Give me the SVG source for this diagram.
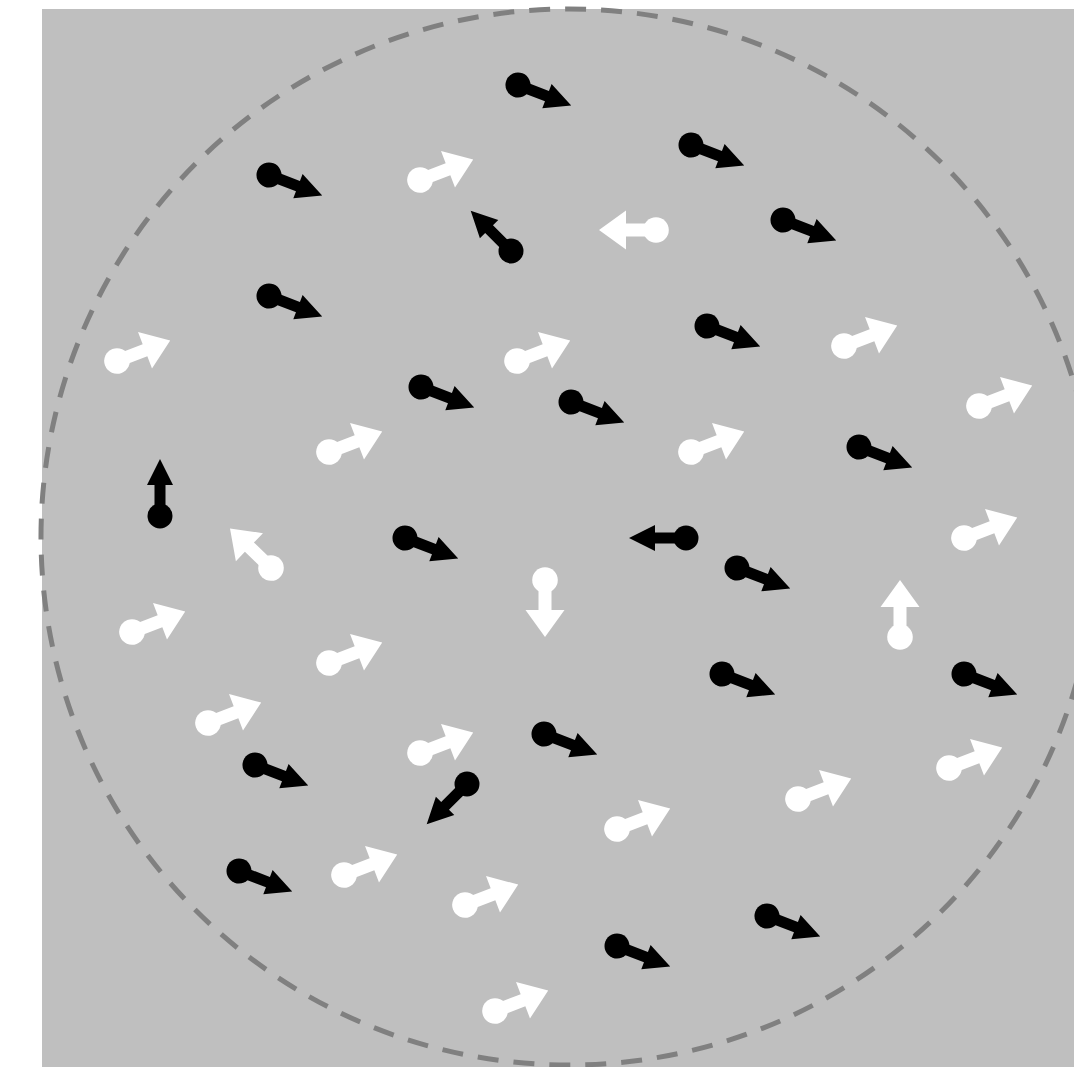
<svg xmlns="http://www.w3.org/2000/svg" xmlns:xlink="http://www.w3.org/1999/xlink" width="1074" height="1067" viewBox="0 0 1074 1067">
<style>
.bg{fill:#bfbfbf}
.ring{fill:none;stroke:#808080;stroke-width:5;stroke-dasharray:21 15}
.blk{fill:#000}
.wht{fill:#fff}
</style>
<defs>
<g id="ab">
<circle cx="0" cy="0" r="12.5"/>
<polygon points="0,-5.5 31,-5.5 31,-13 57,0 31,13 31,5.5 0,5.5"/>
</g>
<g id="aw">
<circle cx="0" cy="0" r="12.8"/>
<polygon points="0,-6.5 30,-6.5 30,-19.5 57,0 30,19.5 30,6.5 0,6.5"/>
</g>
</defs>
<rect class="bg" x="42" y="9" width="1032" height="1058"/>
<g id="boundary"><circle class="ring" cx="569" cy="537" r="528"/></g>
<g id="black-arrows" class="blk">
<use id="b1" xlink:href="#ab" transform="translate(518,85) rotate(21)"/>
<use id="b2" xlink:href="#ab" transform="translate(691,145) rotate(21)"/>
<use id="b3" xlink:href="#ab" transform="translate(269,175) rotate(21)"/>
<use id="b4" xlink:href="#ab" transform="translate(783,220) rotate(21)"/>
<use id="b5" xlink:href="#ab" transform="translate(269,296) rotate(21)"/>
<use id="b6" xlink:href="#ab" transform="translate(707,326) rotate(21)"/>
<use id="b7" xlink:href="#ab" transform="translate(421,387) rotate(21)"/>
<use id="b8" xlink:href="#ab" transform="translate(571,402) rotate(21)"/>
<use id="b9" xlink:href="#ab" transform="translate(859,447) rotate(21)"/>
<use id="b10" xlink:href="#ab" transform="translate(405,538) rotate(21)"/>
<use id="b11" xlink:href="#ab" transform="translate(737,568) rotate(21)"/>
<use id="b12" xlink:href="#ab" transform="translate(722,674) rotate(21)"/>
<use id="b13" xlink:href="#ab" transform="translate(964,674) rotate(21)"/>
<use id="b14" xlink:href="#ab" transform="translate(544,734) rotate(21)"/>
<use id="b15" xlink:href="#ab" transform="translate(255,765) rotate(21)"/>
<use id="b16" xlink:href="#ab" transform="translate(239,871) rotate(21)"/>
<use id="b17" xlink:href="#ab" transform="translate(767,916) rotate(21)"/>
<use id="b18" xlink:href="#ab" transform="translate(617,946) rotate(21)"/>
<use id="b19" xlink:href="#ab" transform="translate(511,251) rotate(-135)"/>
<use id="b20" xlink:href="#ab" transform="translate(160,516) rotate(-90)"/>
<use id="b21" xlink:href="#ab" transform="translate(686,538) rotate(180)"/>
<use id="b22" xlink:href="#ab" transform="translate(467,784) rotate(135)"/>
</g>
<g id="white-arrows" class="wht">
<use id="w1" xlink:href="#aw" transform="translate(420,180) rotate(-21)"/>
<use id="w2" xlink:href="#aw" transform="translate(117,361) rotate(-21)"/>
<use id="w3" xlink:href="#aw" transform="translate(517,361) rotate(-21)"/>
<use id="w4" xlink:href="#aw" transform="translate(844,346) rotate(-21)"/>
<use id="w5" xlink:href="#aw" transform="translate(979,406) rotate(-21)"/>
<use id="w6" xlink:href="#aw" transform="translate(329,452) rotate(-21)"/>
<use id="w7" xlink:href="#aw" transform="translate(691,452) rotate(-21)"/>
<use id="w8" xlink:href="#aw" transform="translate(964,538) rotate(-21)"/>
<use id="w9" xlink:href="#aw" transform="translate(132,632) rotate(-21)"/>
<use id="w10" xlink:href="#aw" transform="translate(329,663) rotate(-21)"/>
<use id="w11" xlink:href="#aw" transform="translate(208,723) rotate(-21)"/>
<use id="w12" xlink:href="#aw" transform="translate(420,753) rotate(-21)"/>
<use id="w13" xlink:href="#aw" transform="translate(949,768) rotate(-21)"/>
<use id="w14" xlink:href="#aw" transform="translate(798,799) rotate(-21)"/>
<use id="w15" xlink:href="#aw" transform="translate(617,829) rotate(-21)"/>
<use id="w16" xlink:href="#aw" transform="translate(344,875) rotate(-21)"/>
<use id="w17" xlink:href="#aw" transform="translate(465,905) rotate(-21)"/>
<use id="w18" xlink:href="#aw" transform="translate(495,1011) rotate(-21)"/>
<use id="w19" xlink:href="#aw" transform="translate(656,230) rotate(180)"/>
<use id="w20" xlink:href="#aw" transform="translate(271,568) rotate(-136)"/>
<use id="w21" xlink:href="#aw" transform="translate(545,580) rotate(90)"/>
<use id="w22" xlink:href="#aw" transform="translate(900,637) rotate(-90)"/>
</g>
</svg>
